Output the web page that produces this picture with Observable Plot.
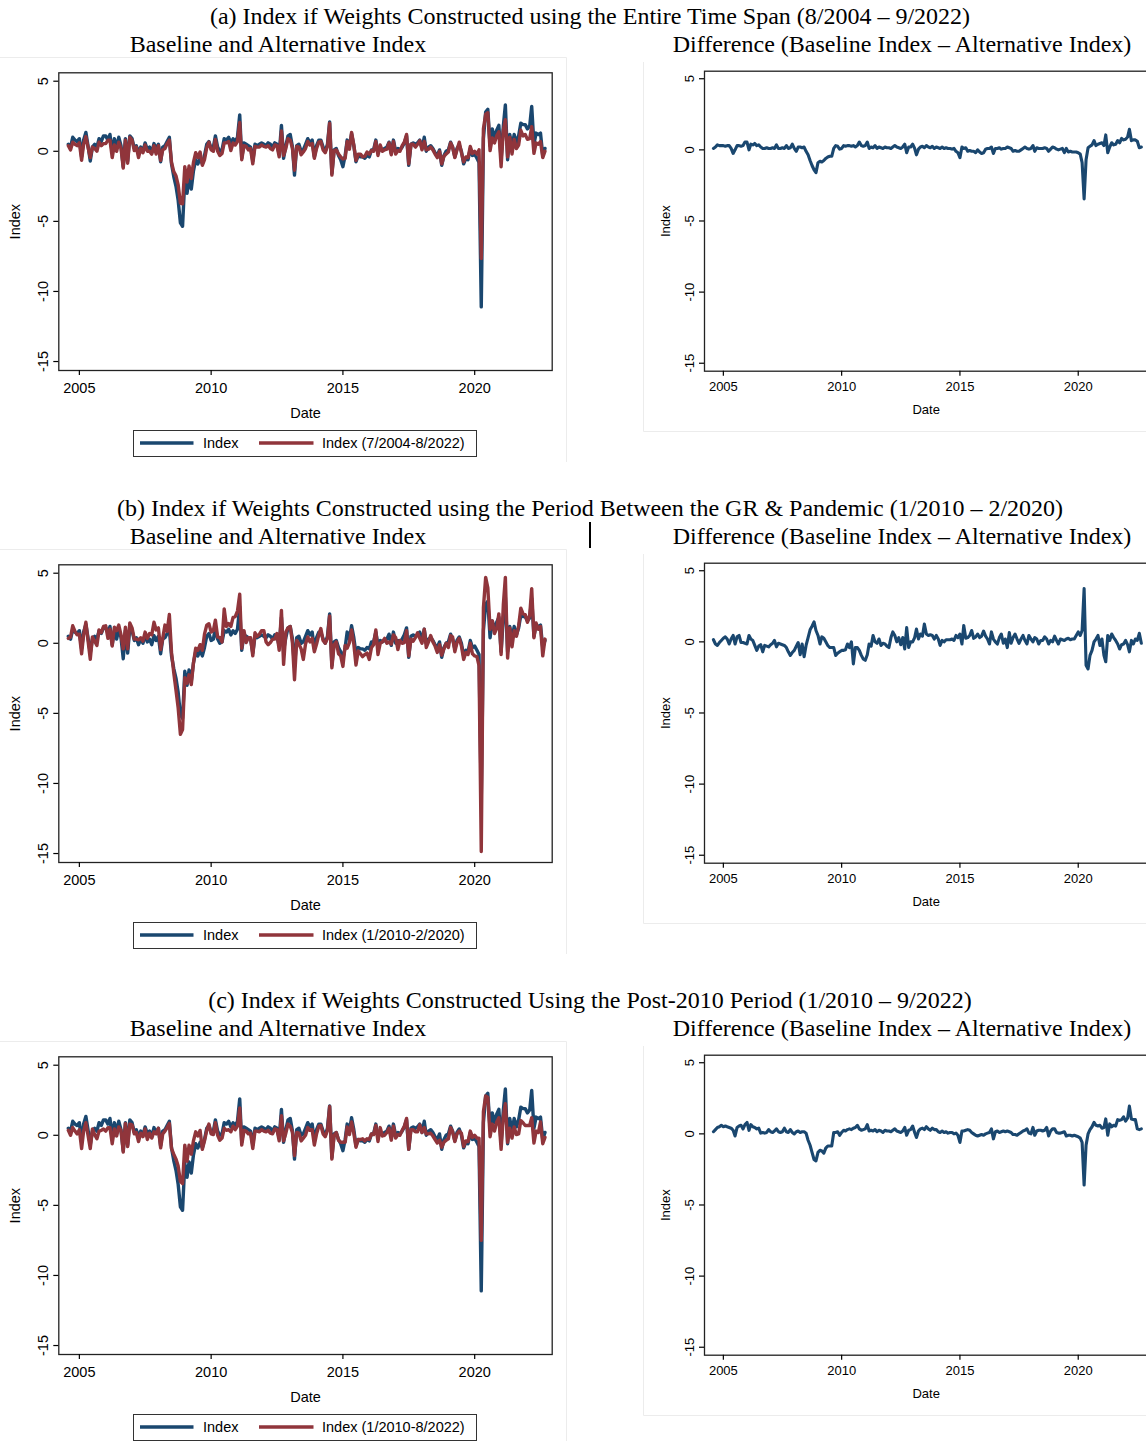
<!DOCTYPE html>
<html>
<head>
<meta charset="utf-8">
<script src="https://cdn.jsdelivr.net/npm/d3@7"></script>
<script src="https://cdn.jsdelivr.net/npm/@observablehq/plot@0.6"></script>
<style>
  html, body { margin: 0; padding: 0; background: #fff; overflow: hidden; }
  body { position: relative; width: 1146px; height: 1441px; }
  .chart { position: absolute; }
  .chart svg { display: block; max-width: none !important; }
  #overlay { position: absolute; left: 0; top: 0; }
</style>
</head>
<body>
<script>
// ---------------- DATA (monthly, 8/2004 – 9/2022) ----------------
const firstMonth = "2004-08";
const lastMonth = "2022-09";

// Baseline index (blue) – identical in all three panels
const baseline = [
  0.5, 0.3, 1.0, 0.8, 0.7,                                        // 2004 Aug-Dec
  0.9, -0.4, 0.8, 1.35, 0.4, -0.7, 0.3, 0.5, 0.3, 0.9, 0.7, 1.1,  // 2005
  1.1, 0.8, 1.2, -0.1, 0.9, 0.3, 1.0, 0.4, -1.1, 0.9, -0.7, 1.1,  // 2006
  0.9, 0.2, 0.4, -0.1, 0.3, 0.0, 0.6, 0.1, 0.3, -0.1, 0.55, 0.2,  // 2007
  0.5, -0.75, 0.3, 0.4, 0.7, 1.0, -0.9, -1.8, -2.5, -3.5, -5.1, -5.35, // 2008
  -2.0, -3.0, -1.9, -2.7, -1.4, -0.6, -0.9, -0.5, -0.9, -0.3, 0.5, 0.7, // 2009
  0.2, 0.3, 1.1, 0.3, 0.0, 0.1, 0.9, 0.8, 1.0, 0.6, 0.9, 0.7,     // 2010
  1.0, 2.6, -0.5, 0.6, 0.5, 0.4, 0.3, -0.7, 0.5, 0.4, 0.5, 0.6,   // 2011
  0.5, 0.4, 0.6, 0.5, 0.3, 0.6, 0.5, -0.2, 1.85, -0.5, 0.4, 1.1,  // 2012
  1.2, 0.3, -1.7, 0.4, 0.5, 0.0, 0.1, 0.5, 0.9, 0.6, 0.8, -0.4,   // 2013
  0.4, 0.8, 0.8, 0.3, 0.0, 0.5, 2.1, -1.6, 0.1, 0.2, -0.3, -0.6,  // 2014
  -1.1, -0.3, 0.8, 0.3, 1.25, 0.4, -0.75, -0.3, -0.4, -0.4, -0.5, -0.3, // 2015
  -0.4, 0.1, 0.1, 0.8, -0.1, 0.2, 0.1, 0.2, 0.3, 0.65, -0.15, 0.8, // 2016
  0.0, 0.2, 0.1, 0.3, 0.6, 1.1, -1.0, 0.5, 0.6, 0.5, 0.6, 0.8,    // 2017
  0.2, 1.0, 0.0, 0.3, 0.4, 0.2, -0.1, -0.3, 0.1, -1.0, -0.3, 0.0, // 2018
  0.1, 0.65, 0.3, -0.4, 0.2, 0.45, 0.0, -0.9, -0.5, -0.6, 0.2, -0.3, // 2019
  -0.2, -0.5, -0.8, -11.1, 0.9, 2.8, 3.0, 0.4, 1.6, 0.9, 1.5, 1.85, // 2020
  -0.6, 1.8, 3.3, -0.6, 1.2, 0.3, 1.2, 0.6, 1.1, 2.0, 1.9, 1.9,   // 2021
  1.6, 1.8, 3.2, 0.5, 1.3, 1.2, 1.3, -0.3, 0.2                    // 2022 Jan-Sep
];

// (a) Alternative index, weights 7/2004-8/2022 (red)
const altEntire = [
  0.4, 0.1, 0.65, 0.5, 0.4,
  0.6, -0.65, 0.5, 1.05, 0.3, -0.45, 0.3, 0.2, 0.0, 0.65, 0.4, 0.55,
  0.55, 0.8, 0.8, -0.45, 0.45, 0.0, 0.65, 0.2, -1.2, 0.8, -0.85, 1.0,
  0.8, 0.05, 0.3, -0.45, 0.2, -0.1, 0.45, 0.0, 0.0, -0.2, 0.4, -0.2,
  0.4, -0.65, 0.1, 0.2, 0.55, 0.8, -0.8, -1.45, -1.75, -2.4, -3.7, -3.75,
  -1.1, -2.2, -1.05, -1.95, -0.8, -0.1, -0.45, -0.05, -1.0, -0.6, 0.25, 0.65,
  0.1, 0.0, 0.85, 0.0, -0.3, -0.15, 0.6, 0.6, 0.7, 0.05, 0.6, 0.45,
  0.7, 2.05, -0.6, 0.4, 0.35, 0.1, 0.2, -0.9, 0.35, 0.3, 0.3, 0.45,
  0.35, 0.3, 0.4, 0.2, 0.1, 0.45, 0.4, -0.4, 1.45, -0.3, 0.2, 0.9,
  0.8, 0.2, -1.35, 0.35, 0.3, -0.25, -0.05, 0.2, 0.7, 0.45, 0.55, -0.5,
  0.2, 0.65, 0.7, 0.1, -0.1, 0.35, 2.0, -1.7, 0.05, 0.1, -0.2, -0.4,
  -0.55, -0.5, 0.7, 0.15, 1.35, 0.45, -0.65, -0.2, -0.2, -0.4, -0.35, -0.05,
  -0.2, 0.05, 0.0, 0.7, -0.3, 0.45, 0.0, 0.1, 0.15, 0.6, -0.25, 0.7,
  -0.2, 0.05, 0.0, 0.4, 0.65, 1.2, -0.9, 0.5, 0.5, 0.3, 0.5, 0.75,
  0.1, 0.7, 0.1, 0.15, 0.3, 0.1, -0.2, -0.45, 0.0, -0.9, -0.35, -0.2,
  -0.05, 0.6, 0.3, -0.45, 0.1, 0.65, -0.1, -0.75, -0.4, -0.45, 0.35, -0.15,
  0.0, -0.2, 0.1, -7.65, 1.6, 2.65, 2.75, 0.05, 0.95, 0.6, 1.1, 1.4,
  -1.1, 1.5, 2.25, -0.4, 1.0, -0.2, 0.85, 0.2, 0.45, 1.5, 1.1, 1.2,
  0.85, 0.9, 1.75, -0.15, 0.6, 0.5, 0.7, -0.45, 0.0
];
// (a) Difference, baseline – alternative
const diffEntire = [
  0.1, 0.2, 0.35, 0.3, 0.3,
  0.3, 0.25, 0.3, 0.3, 0.1, -0.25, 0.0, 0.3, 0.3, 0.25, 0.3, 0.55,
  0.55, 0.0, 0.4, 0.35, 0.45, 0.3, 0.35, 0.2, 0.1, 0.1, 0.15, 0.1,
  0.1, 0.15, 0.1, 0.35, 0.1, 0.1, 0.15, 0.1, 0.3, 0.1, 0.15, 0.4,
  0.1, -0.1, 0.2, 0.2, 0.15, 0.2, -0.1, -0.35, -0.75, -1.1, -1.4, -1.6,
  -0.9, -0.8, -0.85, -0.75, -0.6, -0.5, -0.45, -0.45, 0.1, 0.3, 0.25, 0.05,
  0.1, 0.3, 0.25, 0.3, 0.3, 0.25, 0.3, 0.2, 0.3, 0.55, 0.3, 0.25,
  0.3, 0.55, 0.1, 0.2, 0.15, 0.3, 0.1, 0.2, 0.15, 0.1, 0.2, 0.15,
  0.15, 0.1, 0.2, 0.3, 0.2, 0.15, 0.1, 0.2, 0.4, -0.2, 0.2, 0.2,
  0.4, 0.1, -0.35, 0.05, 0.2, 0.25, 0.15, 0.3, 0.2, 0.15, 0.25, 0.1,
  0.2, 0.15, 0.1, 0.2, 0.1, 0.15, 0.1, 0.1, 0.05, 0.1, -0.1, -0.2,
  -0.55, 0.2, 0.1, 0.15, -0.1, -0.05, -0.1, -0.1, -0.2, 0.0, -0.15, -0.25,
  -0.2, 0.05, 0.1, 0.1, 0.2, -0.25, 0.1, 0.1, 0.15, 0.05, 0.1, 0.1,
  0.2, 0.15, 0.1, -0.1, -0.05, -0.1, -0.1, 0.0, 0.1, 0.2, 0.1, 0.05,
  0.1, 0.3, -0.1, 0.15, 0.1, 0.1, 0.1, 0.15, 0.1, -0.1, 0.05, 0.2,
  0.15, 0.05, 0.0, 0.05, 0.1, -0.2, 0.1, -0.15, -0.1, -0.15, -0.15, -0.15,
  -0.2, -0.3, -0.9, -3.45, -0.7, 0.15, 0.25, 0.35, 0.65, 0.3, 0.4, 0.45,
  0.5, 0.3, 1.05, -0.2, 0.2, 0.5, 0.35, 0.4, 0.65, 0.5, 0.8, 0.7,
  0.75, 0.9, 1.45, 0.65, 0.7, 0.7, 0.6, 0.15, 0.2
];

// (b) Alternative index, weights 1/2010-2/2020 (red)
const altBetween = [
  0.35, 0.45, 1.25, 0.85, 0.6,
  0.65, -0.75, 0.6, 1.5, 0.2, -1.15, 0.45, 0.15, -0.15, 0.95, 0.75, 1.2,
  1.25, 0.35, 1.0, -0.2, 1.15, 0.9, 1.3, 0.6, -0.4, 1.15, -0.4, 1.45,
  1.1, 0.3, 0.3, 0.25, 0.4, 0.15, 0.8, 0.35, 0.7, 0.6, 1.5, 0.95,
  1.1, -0.45, 0.35, 1.3, 0.85, 2.05, -0.65, -2.1, -3.35, -4.6, -6.5, -6.15,
  -2.45, -2.85, -2.25, -2.95, -1.4, -0.35, -0.5, -0.1, -0.5, 0.65, 1.3, 1.4,
  0.8, 0.9, 1.65, 0.45, 0.4, 0.1, 2.45, 1.2, 1.4, 1.2, 1.85, 1.9,
  2.3, 3.5, -0.35, 0.9, 0.05, 0.4, 0.4, -0.9, 0.75, 0.5, 0.65, 0.9,
  0.9, 0.1, -0.1, 0.05, 0.3, 0.3, 0.7, -0.5, 2.35, -1.5, 0.8, 1.1,
  1.2, 0.0, -2.6, 0.2, -0.05, -0.4, -1.15, -0.05, 0.45, 0.1, 0.35, -0.6,
  -0.05, 0.6, 1.05, 0.2, 0.0, 0.35, 1.95, -1.75, -0.1, 0.1, -0.75, -0.9,
  -1.65, -0.15, -0.35, 0.05, 0.95, -0.05, -1.55, -0.55, -0.75, -0.95, -0.8, -0.7,
  -1.15, -0.3, -0.1, 0.95, -0.8, 0.0, 0.1, 0.35, 0.0, 0.1, -0.05, 0.6,
  0.4, -0.45, 0.2, 0.0, 0.05, 0.9, -0.9, 0.3, 0.15, 0.4, 0.75, 0.35,
  0.0, 1.0, -0.3, 0.1, 0.55, 0.1, -0.2, -0.65, -0.1, -0.85, -0.4, 0.0,
  -0.3, 0.55, 0.45, -0.6, 0.05, 0.35, -0.2, -1.15, -0.65, -0.8, 0.0, -0.75,
  -0.9, -0.95, -1.6, -14.85, 2.55, 4.7, 3.95, 1.0, 1.6, 0.7, 1.05, 2.1,
  -0.8, 2.75, 4.7, -1.05, 1.1, -0.25, 0.9, 0.5, 1.25, 2.5, 2.1, 2.05,
  1.5, 2.0, 3.9, 0.4, 1.45, 1.0, 1.2, -0.9, 0.3
];
// (b) Difference
const diffBetween = [
  0.15, -0.15, -0.25, -0.05, 0.1,
  0.25, 0.35, 0.2, -0.15, 0.2, 0.45, -0.15, 0.35, 0.45, -0.05, -0.05, -0.1,
  -0.15, 0.45, 0.2, 0.1, -0.25, -0.6, -0.3, -0.2, -0.7, -0.25, -0.3, -0.35,
  -0.2, -0.1, 0.1, -0.35, -0.1, -0.15, -0.2, -0.25, -0.4, -0.7, -0.95, -0.75,
  -0.6, -0.3, -0.05, -0.9, -0.15, -1.05, -0.25, 0.3, 0.85, 1.1, 1.4, 0.8,
  0.45, -0.15, 0.35, 0.25, 0.0, -0.25, -0.4, -0.4, -0.4, -0.95, -0.8, -0.7,
  -0.6, -0.6, -0.55, -0.15, -0.4, 0.0, -1.55, -0.4, -0.4, -0.6, -0.95, -1.2,
  -1.3, -0.9, -0.15, -0.3, 0.45, 0.0, -0.1, 0.2, -0.25, -0.1, -0.15, -0.3,
  -0.4, 0.3, 0.7, 0.45, 0.0, 0.3, -0.2, 0.3, -0.5, 1.0, -0.4, 0.0,
  0.0, 0.3, 0.9, 0.2, 0.55, 0.4, 1.25, 0.55, 0.45, 0.5, 0.45, 0.2,
  0.45, 0.2, -0.25, 0.1, 0.0, 0.15, 0.15, 0.15, 0.2, 0.1, 0.45, 0.3,
  0.55, -0.15, 1.15, 0.25, 0.3, 0.45, 0.8, 0.25, 0.35, 0.55, 0.3, 0.4,
  0.75, 0.4, 0.2, -0.15, 0.7, 0.2, 0.0, -0.15, 0.3, 0.55, -0.1, 0.2,
  -0.4, 0.65, -0.1, 0.3, 0.55, 0.2, -0.1, 0.2, 0.45, 0.1, -0.15, 0.45,
  0.2, 0.0, 0.3, 0.2, -0.15, 0.1, 0.1, 0.35, 0.2, -0.15, 0.1, 0.0,
  0.4, 0.1, -0.15, 0.2, 0.15, 0.1, 0.2, 0.25, 0.15, 0.2, 0.2, 0.45,
  0.7, 0.45, 0.8, 3.75, -1.65, -1.9, -0.95, -0.6, 0.0, 0.2, 0.45, -0.25,
  0.2, -0.95, -1.4, 0.45, 0.1, 0.55, 0.3, 0.1, -0.15, -0.5, -0.2, -0.15,
  0.1, -0.2, -0.7, 0.1, -0.15, 0.2, 0.1, 0.6, -0.1
];

// (c) Alternative index, weights 1/2010-8/2022 (red)
const altPost2010 = [
  0.35, 0.0, 0.55, 0.3, 0.1,
  0.4, -0.95, 0.3, 0.9, 0.0, -0.95, 0.45, 0.05, -0.25, 0.3, 0.35, 0.45,
  0.3, 0.55, 0.55, -0.6, 0.45, -0.05, 0.6, 0.35, -1.2, 0.85, -0.8, 0.8,
  0.75, 0.1, 0.2, -0.45, 0.15, -0.1, 0.45, -0.3, 0.15, -0.2, 0.25, 0.1,
  0.5, -0.9, 0.1, 0.3, 0.55, 0.85, -0.95, -1.35, -1.7, -2.2, -3.3, -3.45,
  -0.7, -1.85, -0.7, -1.35, -0.4, 0.25, -0.05, 0.35, -1.0, -0.4, 0.35, 0.8,
  0.1, 0.05, 0.9, 0.0, -0.35, -0.2, 0.5, 0.35, 0.4, 0.25, 0.65, 0.4,
  0.65, 1.95, -0.7, 0.35, 0.3, 0.1, 0.15, -0.95, 0.3, 0.3, 0.25, 0.4,
  0.3, 0.25, 0.35, 0.15, 0.1, 0.45, 0.4, -0.4, 1.4, -0.4, 0.15, 0.8,
  0.65, 0.2, -1.45, 0.2, 0.15, -0.4, -0.2, 0.0, 0.55, 0.35, 0.4, -0.7,
  0.1, 0.65, 0.7, 0.1, -0.1, 0.35, 2.05, -1.7, 0.0, 0.2, -0.35, -0.5,
  -0.5, -0.5, 0.6, 0.05, 0.95, 0.15, -0.85, -0.3, -0.3, -0.25, -0.4, -0.25,
  -0.3, 0.1, 0.05, 0.7, -0.45, 0.55, -0.05, 0.0, 0.2, 0.5, -0.35, 0.65,
  -0.2, 0.05, 0.0, 0.35, 0.65, 1.2, -1.0, 0.4, 0.4, 0.25, 0.25, 0.75,
  0.2, 0.55, 0.1, 0.1, 0.15, -0.05, -0.3, -0.55, -0.35, -0.85, -0.5, -0.35,
  -0.25, 0.55, 0.25, -0.45, 0.1, 0.3, 0.15, -0.8, -0.4, -0.45, 0.3, -0.15,
  0.0, -0.2, -0.2, -7.5, 1.7, 2.8, 2.7, -0.1, 0.8, 0.3, 0.95, 1.25,
  -1.0, 1.35, 2.25, -0.5, 0.5, -0.2, 0.6, 0.05, 0.1, 1.05, 0.9, 0.7,
  0.7, 0.7, 1.25, -0.55, 0.3, 0.2, 0.95, -0.6, -0.15
];
// (c) Difference
const diffPost2010 = [
  0.15, 0.3, 0.45, 0.5, 0.6,
  0.5, 0.55, 0.5, 0.45, 0.4, 0.25, -0.15, 0.45, 0.55, 0.6, 0.35, 0.65,
  0.8, 0.25, 0.65, 0.5, 0.45, 0.35, 0.4, 0.05, 0.1, 0.05, 0.1, 0.3,
  0.15, 0.1, 0.2, 0.35, 0.15, 0.1, 0.15, 0.4, 0.15, 0.1, 0.3, 0.1,
  0.0, 0.15, 0.2, 0.1, 0.15, 0.15, 0.05, -0.45, -0.8, -1.3, -1.8, -1.9,
  -1.3, -1.15, -1.2, -1.35, -1.0, -0.85, -0.85, -0.85, 0.1, 0.1, 0.15, -0.1,
  0.1, 0.25, 0.2, 0.3, 0.35, 0.3, 0.4, 0.45, 0.6, 0.35, 0.25, 0.3,
  0.35, 0.65, 0.2, 0.25, 0.2, 0.3, 0.15, 0.25, 0.2, 0.1, 0.25, 0.2,
  0.2, 0.15, 0.25, 0.35, 0.2, 0.15, 0.1, 0.2, 0.45, -0.1, 0.25, 0.3,
  0.55, 0.1, -0.25, 0.2, 0.35, 0.4, 0.3, 0.5, 0.35, 0.25, 0.4, 0.3,
  0.3, 0.15, 0.1, 0.2, 0.1, 0.15, 0.05, 0.1, 0.1, 0.0, 0.05, -0.1,
  -0.6, 0.2, 0.2, 0.25, 0.3, 0.25, 0.1, 0.0, -0.1, -0.15, -0.1, -0.05,
  -0.1, 0.0, 0.05, 0.1, 0.35, -0.35, 0.15, 0.2, 0.1, 0.15, 0.2, 0.15,
  0.2, 0.15, 0.1, -0.05, -0.05, -0.1, 0.0, 0.1, 0.2, 0.25, 0.35, 0.05,
  0.0, 0.45, -0.1, 0.2, 0.25, 0.25, 0.2, 0.25, 0.45, -0.15, 0.2, 0.35,
  0.35, 0.1, 0.05, 0.05, 0.1, 0.15, -0.15, -0.1, -0.1, -0.15, -0.1, -0.15,
  -0.2, -0.3, -0.6, -3.6, -0.8, 0.0, 0.3, 0.5, 0.8, 0.6, 0.55, 0.6,
  0.4, 0.45, 1.05, -0.1, 0.7, 0.5, 0.6, 0.55, 1.0, 0.95, 1.0, 1.2,
  0.9, 1.1, 1.95, 1.05, 1.0, 1.0, 0.35, 0.3, 0.35
];

// Tick labels and texts
const xTicks = [2005, 2010, 2015, 2020];
const yTicks = [5, 0, -5, -10, -15];
const panelTitles = [
  "(a) Index if Weights Constructed using the Entire Time Span (8/2004 \u2013 9/2022)",
  "(b) Index if Weights Constructed using the Period Between the GR & Pandemic (1/2010 \u2013 2/2020)",
  "(c) Index if Weights Constructed Using the Post-2010 Period (1/2010 \u2013 9/2022)"
];
const leftSubtitle = "Baseline and Alternative Index";
const rightSubtitle = "Difference (Baseline Index \u2013 Alternative Index)";
const seriesLabel = "Index";
const altLabels = ["Index (7/2004-8/2022)", "Index (1/2010-2/2020)", "Index (1/2010-8/2022)"];
const xTitle = "Date";
const yTitle = "Index";

// ---------------- DRAWING ----------------
const BLUE = "#1a476f", RED = "#90353b";
const alts = [altEntire, altBetween, altPost2010];
const diffs = [diffEntire, diffBetween, diffPost2010];

const parseM = d3.utcParse("%Y-%m");
const months = d3.utcMonth.range(parseM(firstMonth), d3.utcMonth.offset(parseM(lastMonth), 1));
const toRows = vals => vals.map((v, i) => ({date: months[i], value: v}));
const xTickDates = xTicks.map(y => new Date(Date.UTC(y, 0, 1)));
const rowOffsets = [0, 492, 984];
const sans = "'Liberation Sans', Arial, Helvetica, sans-serif";
const serif = "'Liberation Serif', 'Times New Roman', serif";

function place(node, left, top, w, h) {
  const div = document.createElement("div");
  div.className = "chart";
  div.style.left = left + "px";
  div.style.top = top + "px";
  div.style.width = w + "px";
  div.style.height = h + "px";
  div.appendChild(node);
  document.body.appendChild(div);
}

function leftChart(alt) {
  const fs = 14.5;
  return Plot.plot({
    width: 580, height: 360,
    marginLeft: 58.3, marginRight: 28.3, marginTop: 12.3, marginBottom: 50,
    x: {type: "utc", domain: [new Date(Date.UTC(2004, 2, 22)), new Date(Date.UTC(2022, 11, 10))]},
    y: {domain: [-15.64, 5.6]},
    style: {fontFamily: sans, fontSize: fs + "px", color: "#000", background: "transparent", overflow: "visible"},
    marks: [
      Plot.line(toRows(baseline), {x: "date", y: "value", stroke: BLUE, strokeWidth: 3.4}),
      Plot.line(toRows(alt), {x: "date", y: "value", stroke: RED, strokeWidth: 3.4}),
      Plot.frame({stroke: "#222", strokeWidth: 1.3}),
      Plot.axisX(xTickDates, {tickSize: 5, tickPadding: 7.7, strokeWidth: 1.2, tickFormat: d => String(d.getUTCFullYear()), label: null, fontSize: fs}),
      Plot.axisY(yTicks, {tickSize: 5, strokeWidth: 1.2, tickFormat: () => "", label: null}),
      Plot.text(yTicks, {y: d => d, text: d => String(d), frameAnchor: "left", dx: -15, rotate: -90, textAnchor: "middle", lineAnchor: "middle", fontSize: fs}),
      Plot.text([yTitle], {frameAnchor: "left", dx: -43.5, rotate: -90, textAnchor: "middle", lineAnchor: "middle", fontSize: fs}),
      Plot.text([xTitle], {frameAnchor: "bottom", dy: 43, textAnchor: "middle", lineAnchor: "middle", fontSize: fs})
    ]
  });
}

function rightChart(diff) {
  const fs = 13;
  return Plot.plot({
    width: 520, height: 360,
    marginLeft: 61, marginRight: 15.7, marginTop: 10.7, marginBottom: 49.3,
    x: {type: "utc", domain: [new Date(Date.UTC(2004, 2, 16)), new Date(Date.UTC(2022, 11, 10))]},
    y: {domain: [-15.56, 5.53]},
    style: {fontFamily: sans, fontSize: fs + "px", color: "#000", background: "transparent", overflow: "visible"},
    marks: [
      Plot.line(toRows(diff), {x: "date", y: "value", stroke: BLUE, strokeWidth: 3.1}),
      Plot.frame({stroke: "#222", strokeWidth: 1.3}),
      Plot.axisX(xTickDates, {tickSize: 5, tickPadding: 6, strokeWidth: 1.2, tickFormat: d => String(d.getUTCFullYear()), label: null, fontSize: fs}),
      Plot.axisY(yTicks, {tickSize: 5, strokeWidth: 1.2, tickFormat: () => "", label: null}),
      Plot.text(yTicks, {y: d => d, text: d => String(d), frameAnchor: "left", dx: -14.7, rotate: -90, textAnchor: "middle", lineAnchor: "middle", fontSize: fs}),
      Plot.text([yTitle], {frameAnchor: "left", dx: -39, rotate: -90, textAnchor: "middle", lineAnchor: "middle", fontSize: fs}),
      Plot.text([xTitle], {frameAnchor: "bottom", dy: 38.6, textAnchor: "middle", lineAnchor: "middle", fontSize: fs})
    ]
  });
}

// Overlay: titles, subtitles, legends, graph-region borders
const svg = d3.select("body").append("svg")
  .attr("id", "overlay").attr("width", 1146).attr("height", 1441);

rowOffsets.forEach((o, k) => {
  const g = svg.append("g").attr("transform", `translate(0,${o})`);
  // faint graph-region borders
  g.append("path").attr("d", "M0,57.5H566.5V462").attr("fill", "none").attr("stroke", "#ececec").attr("stroke-width", 1);
  g.append("path").attr("d", "M643.5,62V431.5H1146").attr("fill", "none").attr("stroke", "#ececec").attr("stroke-width", 1);
  // titles
  g.append("text").attr("x", 590).attr("y", 24).attr("text-anchor", "middle")
    .attr("font-family", serif).attr("font-size", 24).attr("fill", "#000").text(panelTitles[k]);
  g.append("text").attr("x", 278).attr("y", 52).attr("text-anchor", "middle")
    .attr("font-family", serif).attr("font-size", 24).attr("fill", "#000").text(leftSubtitle);
  g.append("text").attr("x", 902).attr("y", 52).attr("text-anchor", "middle")
    .attr("font-family", serif).attr("font-size", 24).attr("fill", "#000").text(rightSubtitle);
  // legend
  const lg = g.append("g").attr("transform", "translate(133.5,430.5)");
  lg.append("rect").attr("width", 343).attr("height", 26).attr("fill", "#fff").attr("stroke", "#333").attr("stroke-width", 1);
  lg.append("line").attr("x1", 6.5).attr("x2", 60).attr("y1", 12.5).attr("y2", 12.5).attr("stroke", BLUE).attr("stroke-width", 3.4);
  lg.append("text").attr("x", 69.5).attr("y", 17.8).attr("font-family", sans).attr("font-size", 14.5).attr("fill", "#000").text(seriesLabel);
  lg.append("line").attr("x1", 125.5).attr("x2", 180).attr("y1", 12.5).attr("y2", 12.5).attr("stroke", RED).attr("stroke-width", 3.4);
  lg.append("text").attr("x", 188.5).attr("y", 17.8).attr("font-family", sans).attr("font-size", 14.5).attr("fill", "#000").text(altLabels[k]);
});
// stray vertical rule seen in row (b)
svg.append("line").attr("x1", 590).attr("x2", 590).attr("y1", 522).attr("y2", 548).attr("stroke", "#000").attr("stroke-width", 2);

rowOffsets.forEach((o, k) => {
  place(leftChart(alts[k]), 0, o + 60, 580, 360);
  place(rightChart(diffs[k]), 643, o + 60, 520, 360);
});
</script>
</body>
</html>
